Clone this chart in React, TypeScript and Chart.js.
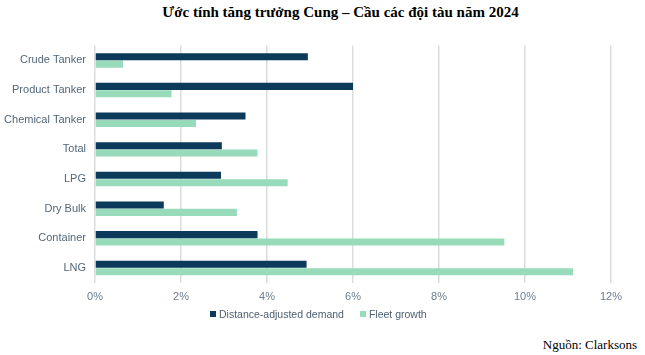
import React, { useEffect, useRef } from "react";
import { Chart, registerables } from "chart.js";

Chart.register(...registerables);

const categories = ["Crude Tanker", "Product Tanker", "Chemical Tanker", "Total", "LPG", "Dry Bulk", "Container", "LNG"];
const demandValues = [4.95, 6.0, 3.5, 2.95, 2.93, 1.6, 3.78, 4.92];
const fleetValues = [0.65, 1.78, 2.35, 3.78, 4.48, 3.3, 9.52, 11.12];
const seriesNames = ["Distance-adjusted demand", "Fleet growth"];
const seriesColors = ["#0b3a5b", "#98dbba"];
const titleText = "Ước tính tăng trưởng Cung – Cầu các đội tàu năm 2024";
const sourceText = "Nguồn: Clarksons";

export default function App() {
  const ref = useRef<HTMLCanvasElement | null>(null);
  useEffect(() => {
    if (!ref.current) return;
    const chart = new Chart(ref.current, {
      type: "bar",
      data: {
        labels: categories,
        datasets: [
          { label: seriesNames[0], data: demandValues, backgroundColor: seriesColors[0], categoryPercentage: 0.5, barPercentage: 0.95 },
          { label: seriesNames[1], data: fleetValues, backgroundColor: seriesColors[1], categoryPercentage: 0.5, barPercentage: 0.95 },
        ],
      },
      options: {
        indexAxis: "y",
        animation: false,
        responsive: false,
        layout: { padding: { top: 11, right: 34, left: 0, bottom: 18 } },
        plugins: {
          legend: { display: false },
          tooltip: { enabled: false },
        },
        scales: {
          x: {
            min: 0,
            max: 12,
            ticks: {
              stepSize: 2,
              callback: (v: any) => v + "%",
              color: "#6b7f90",
              font: { family: "Liberation Sans, Arial", size: 11 },
              padding: 8,
            },
            grid: { color: "#dcdcdc", lineWidth: 1.5, drawTicks: false },
            border: { display: false },
          },
          y: {
            ticks: {
              color: "#52667a",
              font: { family: "Liberation Sans, Arial", size: 11 },
              padding: 9,
            },
            grid: { display: false, drawTicks: false },
            border: { display: false },
            afterFit: (s: any) => { s.width = 95; },
          },
        },
      },
    });
    return () => chart.destroy();
  }, []);
  return (
    <div style={{ position: "fixed", left: 0, top: 0, width: 645, height: 355, background: "#fff" }}>
      <div style={{ position: "absolute", left: 18, top: 4, width: 645, textAlign: "center", fontFamily: "Liberation Serif, Times New Roman, serif", fontWeight: "bold", fontSize: 15, color: "#000" }}>
        {titleText}
      </div>
      <canvas ref={ref} width={645} height={300} style={{ position: "absolute", left: 0, top: 30 }} />
      <div style={{ position: "absolute", left: 210, top: 308, display: "flex", alignItems: "center", fontFamily: "Liberation Sans, Arial, sans-serif", fontSize: 10.5, color: "#4d6072", whiteSpace: "nowrap" }}>
        <span style={{ display: "inline-block", width: 6, height: 6, background: seriesColors[0], marginRight: 3 }} />
        <span style={{ marginRight: 16 }}>{seriesNames[0]}</span>
        <span style={{ display: "inline-block", width: 6, height: 6, background: seriesColors[1], marginRight: 3 }} />
        <span>{seriesNames[1]}</span>
      </div>
      <div style={{ position: "absolute", right: 8, top: 337, fontFamily: "Liberation Serif, Times New Roman, serif", fontSize: 13, color: "#000" }}>
        {sourceText}
      </div>
    </div>
  );
}
